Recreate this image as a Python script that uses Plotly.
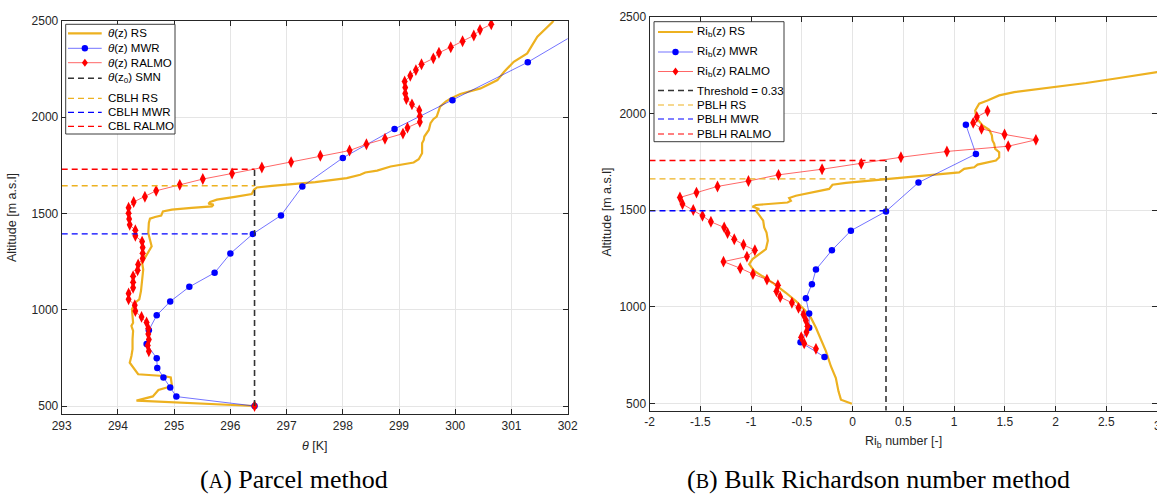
import plotly.graph_objects as go

# ---------------- data: (A) parcel method ----------------
theta_rs = [296.43, 294.33, 294.62, 294.67, 294.72, 294.87, 294.96, 294.94, 294.81, 294.36, 294.30, 294.21,
            294.24, 294.26, 294.26, 294.27, 294.24, 294.27, 294.26, 294.25, 294.30, 294.38, 294.41, 294.43,
            294.45, 294.43, 294.51, 294.60, 294.57, 294.54, 294.55, 294.57, 294.66, 294.77, 294.80, 294.96,
            295.31, 295.67, 295.70, 295.61, 295.64, 295.76, 296.08, 296.38, 296.42, 296.47, 296.74, 297.27,
            297.51, 298.07, 298.31, 298.40, 298.61, 298.85, 299.26, 299.35, 299.41, 299.41, 299.44, 299.45,
            299.53, 299.56, 299.61, 299.67, 299.73, 299.83, 299.92, 300.09, 300.45, 300.75, 300.87, 301.04,
            301.28, 301.46, 301.58, 301.73, 301.76]
z_theta_rs = [500, 528, 550, 565, 583, 596, 608, 648, 656, 665, 691, 725,
              760, 795, 847, 890, 916, 932, 967, 1002, 1036, 1054, 1097, 1157,
              1209, 1244, 1287, 1330, 1364, 1399, 1451, 1473, 1482, 1489, 1511, 1520,
              1529, 1537, 1546, 1551, 1560, 1572, 1586, 1601, 1623, 1635, 1644, 1658,
              1663, 1684, 1701, 1713, 1723, 1744, 1765, 1782, 1813, 1865, 1882, 1900,
              1934, 1969, 1990, 2003, 2055, 2081, 2098, 2121, 2150, 2193, 2236, 2288,
              2332, 2418, 2452, 2495, 2510]

theta_mwr = [296.43, 295.04, 294.93, 294.81, 294.70, 294.69, 294.51, 294.55, 294.69, 294.93, 295.27,
             295.72, 296.00, 296.40, 296.90, 297.28, 298.00, 298.92, 299.95, 301.29, 302.45]
z_theta_mwr = [500, 549, 596, 648, 698, 748, 822, 894, 971, 1043, 1119,
               1192, 1292, 1394, 1490, 1640, 1789, 1939, 2088, 2286, 2486]

theta_ralmo = [296.43, None, 294.55, 294.53, 294.55, 294.54, 294.54, 294.51, 294.42, 294.31, 294.30, 294.19,
               294.19, 294.27, 294.27, 294.27, 294.35, 294.36, 294.44, 294.44, 294.44, 294.43, 294.31,
               294.31, 294.21, 294.20, 294.19, 294.19, 294.28, 294.48, 294.68, 295.10, 295.51, 296.03,
               296.56, 297.08, 297.60, 298.12, 298.42, 298.75, 299.07, 299.15, 299.37, 299.37, 299.36,
               299.23, 299.13, 299.11, 299.11, 299.10, 299.20, 299.30, 299.40, 299.61, 299.71, 299.92,
               300.13, 300.33, 300.44, 300.64]
z_theta_ralmo = [500, None, 784, 814, 845, 874, 903, 934, 963, 993, 1024, 1054,
                 1085, 1114, 1143, 1174, 1205, 1235, 1266, 1293, 1323, 1354, 1384,
                 1413, 1441, 1472, 1501, 1530, 1560, 1587, 1618, 1649, 1679, 1708,
                 1739, 1767, 1800, 1827, 1860, 1888, 1915, 1946, 1976, 2005, 2036,
                 2067, 2095, 2124, 2155, 2186, 2215, 2245, 2275, 2306, 2335, 2364,
                 2395, 2425, 2454, 2483]

theta_z0 = 296.43
z0 = 500
cblh_rs = 1644
cblh_mwr = 1394
cbl_ralmo = 1730

# ---------------- data: (B) bulk Richardson method ----------------
ri_rs = [-0.006, -0.114, -0.138, -0.164, -0.213, -0.262, -0.311, -0.36, -0.41, -0.476, -0.558, -0.656,
         -0.788, -0.887, -0.968, -1.018, -0.985, -0.919, -0.853, -0.834, -0.847, -0.87, -0.88, -0.926,
         -0.952, -0.919, -0.985, -0.952, -0.788, -0.64, -0.607, -0.624, -0.558, -0.443, -0.23, -0.197,
         -0.065, 0.36, 0.69, 0.854, 1.051, 1.10, 1.199, 1.232, 1.413, 1.445, 1.445, 1.406, 1.396, 1.379,
         1.373, 1.347, 1.281, 1.241, 1.216, 1.209, 1.248, 1.33, 1.445, 1.593, 1.872, 2.30, 2.627, 2.89,
         2.99, 3.1]
z_ri_rs = [498, 519, 562, 631, 692, 770, 830, 891, 943, 986, 1029, 1072,
           1124, 1159, 1185, 1220, 1246, 1272, 1298, 1341, 1384, 1410, 1445, 1479,
           1496, 1505, 1517, 1526, 1534, 1539, 1548, 1562, 1574, 1586, 1609, 1631,
           1640, 1661, 1678, 1687, 1695, 1713, 1721, 1735, 1756, 1773, 1799, 1816, 1843, 1860,
           1886, 1915, 1938, 1964, 1989, 2015, 2050, 2067, 2093, 2110, 2128, 2157, 2183, 2206,
           2213, 2222]

ri_mwr = [-0.276, -0.512, -0.427, -0.427, -0.459, -0.40, -0.36, -0.203, -0.016, 0.33, 0.65, 1.216, 1.117]
z_ri_mwr = [740, 816, 891, 965, 1043, 1116, 1192, 1292, 1393, 1493, 1642, 1790, 1941]

ri_ralmo = [-0.36, -0.476, -0.505, -0.453, -0.443, -0.459, -0.483, -0.532, -0.597, -0.712, -0.749, -0.735,
            -0.843, -0.981, -1.106, -1.271, -1.04, -0.962, -1.074, -1.165, -1.231, -1.264, -1.395, -1.478,
            -1.569, -1.675, -1.70, -1.537, -1.33, -1.025, -0.729, -0.30, 0.086, 0.477, 0.93, 1.534, 1.807,
            1.498, 1.271, 1.189, 1.225, 1.33]
z_ri_ralmo = [782, 810, 842, 869, 899, 929, 960, 994, 1020, 1050, 1080, 1111,
              1140, 1169, 1199, 1233, 1259, 1292, 1320, 1349, 1381, 1410, 1439, 1470,
              1500, 1531, 1565, 1590, 1622, 1650, 1682, 1711, 1740, 1773, 1803, 1830, 1863,
              1891, 1920, 1951, 1981, 2012]

threshold = 0.33
pblh_rs = 1661
pblh_mwr = 1496
pblh_ralmo = 1756

theta_ticks = [293, 294, 295, 296, 297, 298, 299, 300, 301, 302]
ri_ticks = [-2, -1.5, -1, -0.5, 0, 0.5, 1, 1.5, 2, 2.5, 3]
ri_ticktext = ["-2", "-1.5", "-1", "-0.5", "0", "0.5", "1", "1.5", "2", "2.5", "3"]
alt_ticks = [500, 1000, 1500, 2000, 2500]

legend_a = ["<i>θ</i>(z) RS", "<i>θ</i>(z) MWR", "<i>θ</i>(z) RALMO", "<i>θ</i>(z<sub>0</sub>) SMN",
            "CBLH RS", "CBLH MWR", "CBL RALMO"]
legend_b = ["Ri<sub>b</sub>(z) RS", "Ri<sub>b</sub>(z) MWR", "Ri<sub>b</sub>(z) RALMO", "Threshold = 0.33",
            "PBLH RS", "PBLH MWR", "PBLH RALMO"]

# ---------------- styles ----------------
W, H = 1157, 500
ORANGE = "#EDB120"
BLUE_L = "rgba(0,0,255,0.55)"
RED_L = "rgba(255,0,0,0.6)"
DASH = "6px,4px"
AX = "#262626"
GRID = "#e5e5e5"


def pxx(x):
    return x / W


def pxy(y):
    return 1 - y / H


fig = go.Figure()


def add_panel(xa, ya, rs, mwr, ralmo, vline, hlines):
    fig.add_trace(go.Scatter(x=rs[0], y=rs[1], mode="lines", line=dict(color=ORANGE, width=2.2),
                             xaxis=xa, yaxis=ya, showlegend=False, hoverinfo="skip"))
    fig.add_trace(go.Scatter(x=mwr[0], y=mwr[1], mode="lines+markers",
                             line=dict(color=BLUE_L, width=1),
                             marker=dict(color="blue", size=6.5, symbol="circle"),
                             xaxis=xa, yaxis=ya, showlegend=False, hoverinfo="skip"))
    fig.add_trace(go.Scatter(x=ralmo[0], y=ralmo[1], mode="lines+markers", connectgaps=False,
                             line=dict(color=RED_L, width=1),
                             marker=dict(color="red", size=8.5, symbol="diamond-tall"),
                             xaxis=xa, yaxis=ya, showlegend=False, hoverinfo="skip"))
    fig.add_trace(go.Scatter(x=vline[0], y=vline[1], mode="lines",
                             line=dict(color="#333333", width=1.6, dash=DASH),
                             xaxis=xa, yaxis=ya, showlegend=False, hoverinfo="skip"))
    for (xs, ys, c) in hlines:
        fig.add_trace(go.Scatter(x=xs, y=ys, mode="lines", line=dict(color=c, width=1.4, dash=DASH),
                                 xaxis=xa, yaxis=ya, showlegend=False, hoverinfo="skip"))


add_panel("x", "y", (theta_rs, z_theta_rs), (theta_mwr, z_theta_mwr), (theta_ralmo, z_theta_ralmo),
          ([theta_z0, theta_z0], [z0, cbl_ralmo]),
          [([293, theta_z0], [cblh_rs, cblh_rs], ORANGE),
           ([293, theta_z0], [cblh_mwr, cblh_mwr], "blue"),
           ([293, theta_z0], [cbl_ralmo, cbl_ralmo], "red")])

add_panel("x2", "y2", (ri_rs, z_ri_rs), (ri_mwr, z_ri_mwr), (ri_ralmo, z_ri_ralmo),
          ([threshold, threshold], [300, pblh_ralmo]),
          [([-2, threshold], [pblh_rs, pblh_rs], ORANGE),
           ([-2, threshold], [pblh_mwr, pblh_mwr], "blue"),
           ([-2, threshold], [pblh_ralmo, pblh_ralmo], "red")])

FONT = "Liberation Sans, Arial, sans-serif"
tickfont = dict(family=FONT, size=12, color=AX)
common_axis = dict(showline=True, linecolor=AX, linewidth=1, mirror="ticks", ticks="inside", ticklen=5,
                   tickcolor=AX, showgrid=True, gridcolor=GRID, gridwidth=1, zeroline=False,
                   tickfont=tickfont, automargin=False)

fig.update_layout(
    template="none",
    width=W, height=H, autosize=False, margin=dict(l=0, r=0, t=0, b=0, pad=0, autoexpand=False),
    paper_bgcolor="white", plot_bgcolor="white", showlegend=False,
    xaxis=dict(domain=[pxx(61.7), pxx(567.7)], range=[293, 302], tickvals=theta_ticks, anchor="y",
               **common_axis),
    yaxis=dict(domain=[pxy(414.3), pxy(21)], range=[457, 2500], tickvals=alt_ticks, anchor="x",
               **common_axis),
    xaxis2=dict(domain=[pxx(649.5), 1.0], range=[-2, 3], tickvals=ri_ticks, ticktext=ri_ticktext,
                anchor="y2", **common_axis),
    yaxis2=dict(domain=[pxy(410.5), pxy(16.7)], range=[463, 2500], tickvals=alt_ticks, anchor="x2",
                **common_axis),
)

# ---------------- legends (drawn as shapes + text) ----------------
shapes = []
annotations = []


def legend_block(box, samp_x, text_x, rows, labels, styles):
    x0, y0, x1, y1 = box
    shapes.append(dict(type="rect", xref="paper", yref="paper", x0=pxx(x0), x1=pxx(x1), y0=pxy(y1),
                       y1=pxy(y0), line=dict(color=AX, width=0.9), fillcolor="white", layer="above"))
    for ry, lab, st in zip(rows, labels, styles):
        color, width, dash, marker = st
        shapes.append(dict(type="line", xref="paper", yref="paper", x0=pxx(samp_x[0]), x1=pxx(samp_x[1]),
                           y0=pxy(ry), y1=pxy(ry), line=dict(color=color, width=width, dash=dash),
                           layer="above"))
        cx = (samp_x[0] + samp_x[1]) / 2
        if marker == "circle":
            r = 3.2
            shapes.append(dict(type="circle", xref="paper", yref="paper", x0=pxx(cx - r), x1=pxx(cx + r),
                               y0=pxy(ry + r), y1=pxy(ry - r), fillcolor="blue", line=dict(width=0),
                               layer="above"))
        elif marker == "diamond":
            path = "M {} {} L {} {} L {} {} L {} {} Z".format(
                pxx(cx), pxy(ry - 4), pxx(cx + 3), pxy(ry), pxx(cx), pxy(ry + 4), pxx(cx - 3), pxy(ry))
            shapes.append(dict(type="path", xref="paper", yref="paper", path=path, fillcolor="red",
                               line=dict(width=0), layer="above"))
        annotations.append(dict(x=pxx(text_x), y=pxy(ry), xref="paper", yref="paper", text=lab,
                                showarrow=False, xanchor="left", yanchor="middle",
                                font=dict(family=FONT, size=11.5, color="black")))


styles = [(ORANGE, 2.2, "solid", None), (BLUE_L, 1, "solid", "circle"), (RED_L, 1, "solid", "diamond"),
          ("#333333", 1.4, DASH, None), (ORANGE, 1.2, DASH, None), ("blue", 1.2, DASH, None),
          ("red", 1.2, DASH, None)]

legend_block((65.7, 24.3, 175, 134), (68, 101.7), 106,
             [33.3, 48.3, 62.7, 78.3, 98.3, 112.3, 126.3], legend_a, styles)
legend_block((654, 21.7, 784, 141.7), (658, 693), 695,
             [32, 52, 71.5, 90.5, 105, 119, 134], legend_b, styles)

# ---------------- axis titles and captions ----------------
lab_font = dict(family=FONT, size=12.5, color=AX)
annotations += [
    dict(x=pxx(12), y=pxy(218), xref="paper", yref="paper", text="Altitude [m a.s.l]", textangle=-90,
         showarrow=False, xanchor="center", yanchor="middle", font=lab_font),
    dict(x=pxx(606.5), y=pxy(212), xref="paper", yref="paper", text="Altitude [m a.s.l]", textangle=-90,
         showarrow=False, xanchor="center", yanchor="middle", font=lab_font),
    dict(x=pxx(314.5), y=pxy(446), xref="paper", yref="paper", text="<i>θ</i> [K]",
         showarrow=False, xanchor="center", yanchor="middle", font=lab_font),
    dict(x=pxx(903.5), y=pxy(442), xref="paper", yref="paper", text="Ri<sub>b</sub> number [-]",
         showarrow=False, xanchor="center", yanchor="middle", font=lab_font),
    # last Ri tick label, which sits on the page edge and is half cut off like in the original
    dict(x=ri_ticks[-1], y=pxy(426), xref="x2", yref="paper", text=ri_ticktext[-1],
         showarrow=False, xanchor="center", yanchor="middle", font=tickfont),
]
cap_font = dict(family="Liberation Serif, Times New Roman, serif", size=26, color="black")
annotations += [
    dict(x=pxx(294), y=pxy(479), xref="paper", yref="paper",
         text="(<span style='font-size:20px'>A</span>) Parcel method",
         showarrow=False, xanchor="center", yanchor="middle", font=cap_font),
    dict(x=pxx(878), y=pxy(479), xref="paper", yref="paper",
         text="(<span style='font-size:20px'>B</span>) Bulk Richardson number method",
         showarrow=False, xanchor="center", yanchor="middle", font=cap_font),
]

fig.update_layout(shapes=shapes, annotations=annotations)
fig.write_html("out.html", config={"displayModeBar": False, "responsive": False},
               post_script="document.body.style.margin='0';document.body.style.overflow='hidden';")
